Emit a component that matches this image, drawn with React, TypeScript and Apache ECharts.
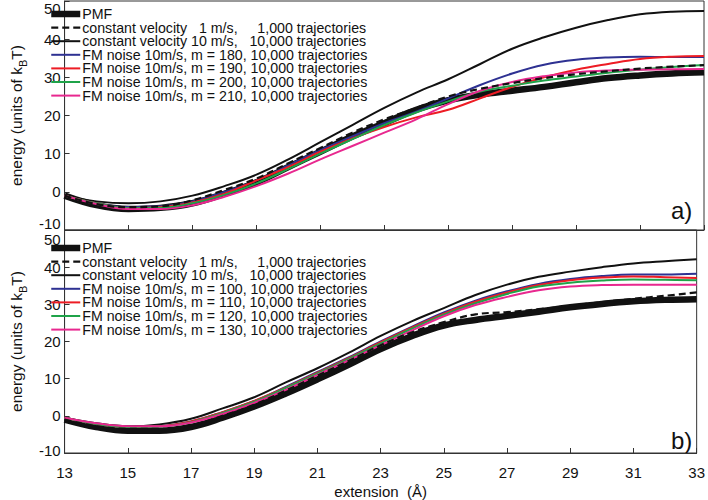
import React, { useEffect, useRef } from "react";
import * as echarts from "echarts";

const extension = [13, 14, 15, 16, 17, 18, 19, 20, 21, 22, 23, 24, 25, 26, 27, 28, 29, 30, 31, 32, 33];
const xTicks = [13, 15, 17, 19, 21, 23, 25, 27, 29, 31, 33];

// panel a)
const pmfA = [-1, -3.5, -4.5, -4.2, -3, -0.5, 2.5, 6.5, 10.5, 14.5, 18, 21.5, 24, 25.5, 26.5, 27.5, 28.7, 29.8, 30.5, 31, 31.3];
const cv1A = [-1, -3.2, -4, -3.8, -2.2, 0.5, 3.5, 7.5, 11.5, 15.5, 19, 22, 25, 27, 28.5, 29.8, 30.8, 31.6, 32.3, 32.8, 33.2];
const cv10A = [-1, -2.5, -3, -2.5, -1, 1.5, 4.5, 8.5, 13, 17.5, 22, 26, 29.5, 33.5, 37.5, 40.5, 43, 45, 46.5, 47.2, 47.4];
const fm180 = [-1, -3, -4, -3.8, -2.5, 0, 3, 7, 11, 14.5, 18, 21, 24.5, 28, 31, 33.3, 34.6, 35.2, 35.4, 35.3, 35.3];
const fm190 = [-1, -3, -4.3, -4, -2.8, -0.5, 3, 6.5, 10.5, 14, 17, 19.5, 21.5, 24.5, 27.5, 30, 32, 33.5, 34.8, 35.4, 35.6];
const fm200 = [-1, -3, -4.3, -4.2, -3, -0.8, 2.2, 6, 10, 13.8, 17.5, 20.8, 23.7, 26.3, 27.8, 29.2, 30.2, 31.2, 32, 32.7, 33.2];
const fm210 = [-1, -3.2, -4.5, -4.5, -3.5, -1.3, 1.5, 4.8, 8.5, 12, 15.5, 19, 23, 26.5, 28.8, 30.3, 31.3, 31.8, 32, 32.1, 32.2];

// panel b)
const pmfB = [-1, -3, -4, -4, -3, -0.5, 2.5, 6, 9.8, 13.8, 18, 21.5, 24.3, 25.8, 26.9, 28, 29.2, 30.1, 30.8, 31.2, 31.4];
const cv1B = [-1, -2.8, -3.5, -3.5, -2.5, 0, 3, 6.8, 10.8, 14.8, 19, 22.5, 25.2, 27.3, 27.9, 28.7, 29.6, 30.6, 31.5, 32.3, 33.2];
const cv10B = [-0.5, -2, -2.8, -2.3, -0.8, 2, 5, 9, 12.8, 17, 21.5, 25.5, 29, 32.5, 35.3, 37.4, 38.8, 40, 41, 41.6, 42.1];
const fm100 = [-0.5, -2.2, -3, -2.8, -1.5, 1, 4, 7.8, 11.8, 15.8, 20, 24, 27.8, 31, 33.5, 35.5, 36.8, 37.6, 38, 38, 38.2];
const fm110 = [-0.5, -2.2, -3, -2.8, -1.5, 1, 4, 7.6, 11.6, 15.6, 19.8, 23.8, 27.5, 30.7, 33.2, 35.2, 36.5, 37.2, 37.5, 37.3, 37.1];
const fm120 = [-0.5, -2.2, -3, -2.9, -1.7, 0.8, 3.8, 7.5, 11.4, 15.4, 19.5, 23.5, 27.2, 30.3, 32.8, 34.8, 35.8, 36.4, 36.7, 36.6, 36.5];
const fm130 = [-0.5, -2, -2.8, -2.8, -1.8, 0.5, 3.5, 7, 11, 15, 19, 23, 26.8, 29.8, 32, 33.8, 34.8, 35.2, 35.3, 35.3, 35.3];

const NAME_PMF = "PMF";
const NAME_CV1 = "constant velocity   1 m/s,     1,000 trajectories";
const NAME_CV10 = "constant velocity 10 m/s,   10,000 trajectories";
const fmName = (m: number) => `FM noise 10m/s, m = ${m}, 10,000 trajectories`;
const mA = [180, 190, 200, 210];
const mB = [100, 110, 120, 130];

const BLUE = "#2e3192";
const RED = "#ed1c24";
const GREEN = "#1fa349";
const PINK = "#e8288f";
const FONT = "Liberation Sans, Arial, sans-serif";

export default function App() {
  const ref = useRef<HTMLDivElement>(null);
  useEffect(() => {
    if (!ref.current) return;
    const chart = echarts.init(ref.current, null, { renderer: "svg" });
    const pairs = (ys: number[]) => extension.map((x, i) => [x, ys[i]]);
    const line = (name: string, ys: number[], idx: number, color: string, width: number, type: any = "solid", z = 3) => ({
      type: "line",
      name,
      xAxisIndex: idx,
      yAxisIndex: idx,
      data: pairs(ys),
      smooth: 0.4,
      symbol: "none",
      z,
      lineStyle: { color, width, type },
      itemStyle: { color },
    });
    const colors = [BLUE, RED, GREEN, PINK];
    const series: any[] = [
      line(NAME_PMF, pmfA, 0, "#111", 6.5, "solid", 2),
      line(NAME_CV1, cv1A, 0, "#111", 2.2, [7, 4], 4),
      line(NAME_CV10, cv10A, 0, "#111", 2, "solid", 3),
      ...[fm180, fm190, fm200, fm210].map((d, i) => line(fmName(mA[i]), d, 0, colors[i], 2)),
      line(NAME_PMF, pmfB, 1, "#111", 6.5, "solid", 2),
      line(NAME_CV1, cv1B, 1, "#111", 2.2, [7, 4], 4),
      line(NAME_CV10, cv10B, 1, "#111", 2, "solid", 3),
      ...[fm100, fm110, fm120, fm130].map((d, i) => line(fmName(mB[i]), d, 1, colors[i], 2)),
    ];
    const legendData = (ms: number[]) => [
      { name: NAME_PMF, lineStyle: { width: 6.5 } },
      { name: NAME_CV1, lineStyle: { width: 2.2 } },
      { name: NAME_CV10, lineStyle: { width: 2 } },
      ...ms.map((m) => ({ name: fmName(m), lineStyle: { width: 2 } })),
    ];
    const legendBase = {
      orient: "vertical",
      left: 43,
      itemWidth: 29,
      itemHeight: 8,
      itemGap: -0.4,
      selectedMode: false,
      itemStyle: { opacity: 0, borderWidth: 0 },
      textStyle: { fontFamily: FONT, fontSize: 14.2, color: "#111", lineHeight: 13.4, padding: [0, 0, 0, -3] },
    };
    const axisLineStyle = { color: "#333", width: 1 };
    const xAxisBase = {
      type: "value",
      min: 13,
      max: 33,
      interval: 2,
      axisLine: { show: true, onZero: false, lineStyle: axisLineStyle },
      axisTick: { show: true, inside: true, length: 5, lineStyle: axisLineStyle },
      splitLine: { show: false },
    };
    const yRich = {
      top: { fontFamily: FONT, fontSize: 15, color: "#111", lineHeight: 30, verticalAlign: "bottom" },
      bot: { fontFamily: FONT, fontSize: 15, color: "#111", lineHeight: 28, verticalAlign: "top" },
      bot2: { fontFamily: FONT, fontSize: 15, color: "#111", lineHeight: 20, verticalAlign: "top" },
      top2: { fontFamily: FONT, fontSize: 15, color: "#111", lineHeight: 34, verticalAlign: "bottom" },
    };
    const yAxisBase = (idx: number) => ({
      type: "value",
      gridIndex: idx,
      min: -10,
      max: 50,
      interval: 10,
      axisLine: { show: true, lineStyle: axisLineStyle },
      axisTick: { show: true, inside: true, length: 5, lineStyle: axisLineStyle },
      splitLine: { show: false },
      axisLabel: {
        fontFamily: FONT,
        fontSize: 15,
        color: "#111",
        margin: 4,
        formatter: (v: number) =>
          v === 50 ? (idx === 0 ? "{top|50}" : "{top2|50}") : v === -10 ? (idx === 0 ? "{bot|-10}" : "{bot2|-10}") : String(v),
        rich: yRich,
      },
      name: "energy (units of k{sub|B}T)",
      nameLocation: "middle",
      nameGap: 29,
      nameTextStyle: {
        fontFamily: FONT,
        fontSize: 15.5,
        color: "#111",
        rich: {
          sub: { fontFamily: FONT, fontSize: 11, color: "#111", verticalAlign: "bottom", lineHeight: 24 },
        },
      },
    });
    chart.setOption({
      animation: false,
      backgroundColor: "#fff",
      grid: [
        { left: 41, top: 1, width: 663, height: 229, show: true, borderColor: "#333", borderWidth: 1 },
        { left: 41, top: 230, width: 663, height: 229, show: true, borderColor: "#333", borderWidth: 1 },
      ],
      xAxis: [
        { ...xAxisBase, gridIndex: 0, axisLabel: { show: false } },
        {
          ...xAxisBase,
          gridIndex: 1,
          axisLabel: { show: true, fontFamily: FONT, fontSize: 15, color: "#111", margin: 12, customValues: xTicks },
          name: "extension  (Å)",
          nameLocation: "middle",
          nameGap: 31,
          nameTextStyle: { fontFamily: FONT, fontSize: 15, color: "#111" },
        },
      ],
      yAxis: [yAxisBase(0), yAxisBase(1)],
      legend: [
        { ...legendBase, top: 2, data: legendData(mA) },
        { ...legendBase, top: 236, data: legendData(mB) },
      ],
      graphic: [
        { type: "text", left: 671, top: 198, style: { text: "a)", font: `24px ${FONT}`, fill: "#111" } },
        { type: "text", left: 671, top: 428, style: { text: "b)", font: `24px ${FONT}`, fill: "#111" } },
      ],
      series,
    });
    return () => chart.dispose();
  }, []);
  return <div ref={ref} style={{ width: 708, height: 500, position: "absolute", left: 0, top: 0 }} />;
}
